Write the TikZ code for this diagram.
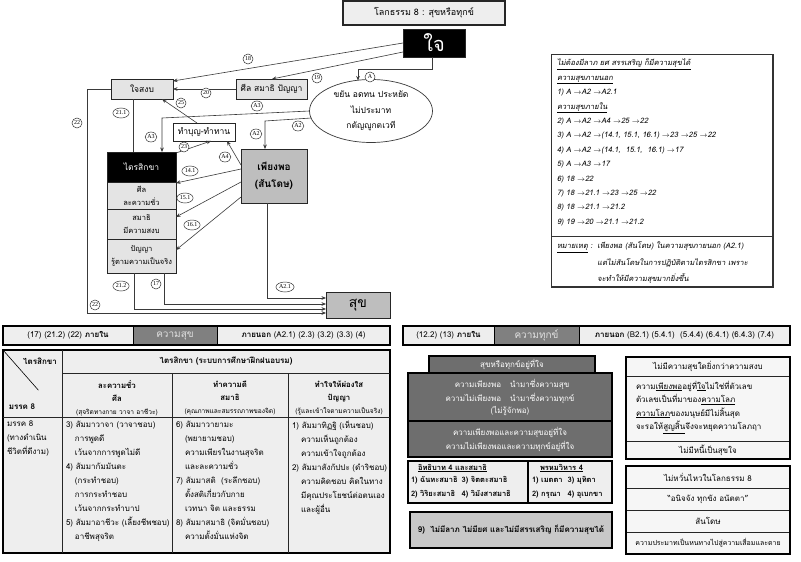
\documentclass[tikz,border=0pt]{standalone}
\usepackage{fontspec}
\setmainfont[Script=Thai]{Loma}
\newfontfamily\thit[Script=Thai,FakeSlant=0.18]{Loma}
\newfontfamily\numf{Liberation Serif}
\usetikzlibrary{shapes.geometric,arrows.meta,calc}
\definecolor{lgray}{HTML}{E4E4E4}
\definecolor{tgray}{HTML}{EEEEEE}
\definecolor{mgray}{HTML}{BEBEBE}
\definecolor{dgray}{HTML}{6E6E6E}
\definecolor{bgray}{HTML}{808080}
\definecolor{ninegray}{HTML}{C8C8C8}
\definecolor{lnc}{HTML}{3A3A3A}
\newcommand\BX[7]{\node[#6, minimum width={#4pt-#2pt}, minimum height={#5pt-#3pt}] (#1) at ({(#2+#4)/2},{(#3+#5)/2}) {#7};}
\newcommand\FS[1]{\fontsize{#1}{#1}\selectfont}
\newcommand\IN{\hspace*{9pt}}
\newcommand\SM{\fontsize{6.6}{13}\selectfont}
\newcommand\LB[4]{\node[lbl] (#1) at (#2,#3) {#4};}
\begin{document}
\begin{tikzpicture}[x=1pt,y=-1pt,
  every node/.style={inner sep=0pt,outer sep=0pt},
  bx/.style={draw=black!85, line width=0.8pt, rectangle, align=center, font=\FS{8.5}},
  conn/.style={draw=lnc, line width=0.6pt},
  arr/.style={conn, -{Stealth[length=4.5pt,width=3.6pt]}},
  lbl/.style={ellipse, draw=black!80, line width=0.5pt, fill=white, inner xsep=0.5pt, inner ysep=0.5pt, minimum width=10pt, minimum height=10pt, font=\numf\FS{6}},
  bar/.style={draw=black, line width=1pt, font=\FS{8}},
  tline/.style={draw=black!85, line width=0.8pt},
  dark/.style={draw=black, line width=1.2pt, fill=dgray, text=white, align=center, font=\FS{8}},
  lite/.style={draw=black, line width=1.2pt, fill=tgray},
  rbox/.style={draw=black!85, line width=0.8pt, fill=tgray!50, font=\FS{8}}
]
\useasboundingbox (0,0) rectangle (801,562);
\fill[white] (0,0) rectangle (801,562);

% ---------- top diagram ----------
\BX{title}{343}{1}{505}{25}{bx, line width=1.6pt, fill=tgray, font=\FS{9}}{โลกธรรม 8 : สุขหรือทุกข์}
\BX{jai}{403}{29}{465}{57}{bx, fill=black, text=white, font=\FS{20}}{ใจ}
\BX{sangob}{111}{79}{173}{99}{bx, fill=lgray}{ใจสงบ}
\BX{sila}{236}{79}{307}{99}{bx, fill=lgray}{ศีล สมาธิ ปัญญา}
\node[ellipse, draw=lnc, line width=0.7pt, minimum width=123pt, minimum height=63pt, align=center, fill=white, font=\fontsize{8.5}{15.5}\selectfont] (ell) at (371,111) {ขยัน อดทน ประหยัด\\ไม่ประมาท\\กตัญญูกตเวที};
\BX{bun}{173}{123}{235}{141}{bx, fill=white}{ทำบุญ-ทำทาน}
\BX{phiang}{241}{149}{307}{203}{bx, fill=mgray, font=\bfseries\fontsize{10}{17}\selectfont}{เพียงพอ\\(สันโดษ)}
\BX{thead}{107}{152}{176}{182}{bx, fill=black, text=white}{ไตรสิกขา}
\BX{tsila}{107}{182}{176}{209}{bx, fill=lgray, font=\fontsize{7.5}{13}\selectfont}{ศีล\\ละความชั่ว}
\BX{tsamadhi}{107}{209}{176}{239}{bx, fill=lgray, font=\fontsize{7.5}{13}\selectfont}{สมาธิ\\มีความสงบ}
\BX{tpanya}{107}{239}{176}{273}{bx, fill=lgray, font=\fontsize{7.5}{13}\selectfont}{ปัญญา\\รู้ตามความเป็นจริง}
\BX{suk}{326}{292}{390}{318}{bx, fill=mgray, font=\FS{14}}{สุข}

% connectors
\draw[arr] (jai.west) -- ($(sangob.north east)+(0,2)$);
\draw[arr] ($(jai.west)+(0,9)$) -- ($(sila.north west)+(36,0)$);
\draw[arr] (sila.west) -- (sangob.east);
\draw[arr] (sangob.west) -- ++(-24,0) |- ($(suk.west)+(0,8)$);
\draw[conn] ($(sangob.south west)+(22,0)$) -- ($(thead.north west)+(26,0)$);
\draw[arr] ($(bun.north west)+(24,0)$) -- ($(sangob.south east)+(-11,0)$);
\draw[arr] ($(thead.north east)+(0,1)$) -- ($(bun.south west)+(38,0)$);
\draw[arr] ($(phiang.north west)+(0,16)$) -- ($(bun.south east)+(-8,0)$);
\draw[arr] (ell.west) -- ($(thead.north west)+(55,-34)$) -- ($(thead.north west)+(55,0)$);
\draw[arr] ($(ell.west)+(2,7)$) -- ($(phiang.north west)+(24,-28)$) -- ($(phiang.north west)+(24,0)$);
\draw[arr] ($(jai.south)+(-2,0)$) |- ($(ell.north)+(-13,-10)$) -- ($(ell.north)+(-13,1)$);
\draw[arr] ($(phiang.north west)+(0,20)$) -- ($(tsila.north east)+(0,1)$);
\draw[arr] ($(phiang.north west)+(0,33)$) -- ($(tsamadhi.east)+(0,-7)$);
\draw[arr] ($(phiang.north west)+(0,48)$) -- ($(tpanya.east)+(0,-6)$);
\draw[arr] ($(phiang.south)+(-7,0)$) |- ($(suk.west)+(0,-7)$);
\draw[arr] ($(tpanya.south west)+(57,0)$) |- ($(suk.west)+(0,-1)$);
\draw[arr] ($(tpanya.south west)+(27,0)$) |- ($(suk.west)+(0,4)$);

% labels
\LB{l18}{248}{59}{18}
\LB{l19}{317}{78}{19}
\LB{l20}{206}{93}{20}
\LB{l22a}{77}{123}{22}
\LB{l211}{121}{113}{21.1}
\LB{l25}{181}{103}{25}
\LB{lA3a}{257}{106}{A3}
\LB{lA3b}{151}{137}{A3}
\LB{l23}{184}{147}{23}
\LB{lA4}{225}{157}{A4}
\LB{lA2a}{256}{134}{A2}
\LB{lA2b}{298}{126}{A2}
\LB{lA}{370}{77}{A}
\LB{l141}{190}{171}{14.1}
\LB{l151}{185}{198}{15.1}
\LB{l161}{192}{225}{16.1}
\LB{l212}{121}{286}{21.2}
\LB{l17}{156}{284}{17}
\LB{lA21}{285}{287}{A2.1}
\LB{l22b}{95}{305}{22}

% ---------- notes box ----------
\BX{notes}{551}{54}{773}{287}{draw=black!80, line width=0.6pt, fill=white}{}
\draw[line width=1.6pt, black!80] (notes.north east) -- (notes.south east) -- (notes.south west);
\draw[line width=0.8pt, black!80] ($(notes.north west)+(0,182)$) -- ($(notes.north east)+(0,182)$);
\node[anchor=north west, align=left, font=\thit\fontsize{7.5}{14.4}\selectfont] (ntext) at (557,59) {%
\underline{ไม่ต้องมีลาภ ยศ สรรเสริญ ก็มีความสุขได้}\\
\underline{ความสุขภายนอก}\\
1) A $\rightarrow$A2 $\rightarrow$A2.1\\
\underline{ความสุขภายใน}\\
2) A $\rightarrow$A2 $\rightarrow$A4 $\rightarrow$25 $\rightarrow$22\\
3) A $\rightarrow$A2 $\rightarrow$(14.1, 15.1, 16.1) $\rightarrow$23 $\rightarrow$25 $\rightarrow$22\\
4) A $\rightarrow$A2 $\rightarrow$(14.1,\ \ 15.1,\ \ 16.1) $\rightarrow$17\\
5) A $\rightarrow$A3 $\rightarrow$17\\
6) 18 $\rightarrow$22\\
7) 18 $\rightarrow$21.1 $\rightarrow$23 $\rightarrow$25 $\rightarrow$22\\
8) 18 $\rightarrow$21.1 $\rightarrow$21.2\\
9) 19 $\rightarrow$20 $\rightarrow$21.1 $\rightarrow$21.2};
\node[anchor=north west, align=left, font=\thit\fontsize{7.5}{16.5}\selectfont] (nnote) at (557,237) {%
\begin{tabular}{@{}l@{\hspace{5pt}}l@{}}
\underline{หมายเหตุ} : & เพียงพอ (สันโดษ) ในความสุขภายนอก (A2.1)\\
 & แต่ไม่สันโดษในการปฏิบัติตามไตรสิกขา เพราะ\\
 & จะทำให้มีความสุขมากยิ่งขึ้น
\end{tabular}};

% ---------- bars ----------
\BX{bl1}{3}{326}{133}{345}{bar, fill=tgray}{(17) (21.2) (22) \textbf{ภายใน}}
\BX{bl2}{133}{326}{217}{345}{bar, fill=bgray, text=black!12, font=\FS{10}}{ความสุข}
\BX{bl3}{217}{326}{390}{345}{bar, fill=tgray}{\textbf{ภายนอก} (A2.1) (2.3) (3.2) (3.3) (4)}
\draw[line width=1.6pt] (bl1.north west) rectangle (bl3.south east);
\BX{br1}{403}{326}{494}{345}{bar, fill=tgray}{(12.2) (13) \textbf{ภายใน}}
\BX{br2}{494}{326}{579}{345}{bar, fill=bgray, text=black!12, font=\FS{10}}{ความทุกข์}
\BX{br3}{579}{326}{790}{345}{bar, fill=tgray}{\textbf{ภายนอก} (B2.1) (5.4.1)\ \ (5.4.4) (6.4.1) (6.4.3) (7.4)}
\draw[line width=1.6pt] (br1.north west) rectangle (br3.south east);

% ---------- table ----------
\BX{tbl}{3}{350}{390}{553}{draw=black, line width=1.2pt, fill=tgray}{}
\draw[tline] (62,350) -- (62,553);
\draw[tline] (62,373) -- (390,373);
\draw[tline] (3,417) -- (390,417);
\draw[tline] (172,373) -- (172,553);
\draw[tline] (288,373) -- (288,553);
\draw[line width=0.6pt] (3,350) -- ($(3,350)!0.6!(62,417)$);
\node[font=\bfseries\FS{8}] (dg1) at (40,361) {ไตรสิกขา};
\node[font=\bfseries\FS{8}] (dg2) at (22,407) {มรรค 8};
\node[font=\bfseries\FS{8}] (h1) at (226,361) {ไตรสิกขา (ระบบการศึกษาฝึกฝนอบรม)};
\node[align=center, font=\fontsize{7.8}{13}\selectfont] (h2) at (117,398) {\textbf{ละความชั่ว}\\\textbf{ศีล}\\{\SM(สุจริตทางกาย วาจา อาชีวะ)}};
\node[align=center, font=\fontsize{7.8}{13}\selectfont] (h3) at (230,398) {\textbf{ทำความดี}\\\textbf{สมาธิ}\\{\SM(คุณภาพและสมรรถภาพของจิต)}};
\node[align=center, font=\fontsize{7.8}{13}\selectfont] (h4) at (339,398) {\textbf{ทำใจให้ผ่องใส}\\\textbf{ปัญญา}\\{\SM(รู้และเข้าใจตามความเป็นจริง)}};
\node[anchor=north west, align=left, font=\fontsize{8}{14}\selectfont] (b1) at (7,421) {มรรค 8\\(ทางดำเนิน\\ชีวิตที่ดีงาม)};
\node[anchor=north west, align=left, font=\fontsize{8}{14}\selectfont] (b2) at (66,421) {3) สัมมาวาจา (วาจาชอบ)\\\IN การพูดดี\\\IN เว้นจากการพูดไม่ดี\\4) สัมมากัมมันตะ\\\IN (กระทำชอบ)\\\IN การกระทำชอบ\\\IN เว้นจากกระทำบาป\\5) สัมมาอาชีวะ (เลี้ยงชีพชอบ)\\\IN อาชีพสุจริต};
\node[anchor=north west, align=left, font=\fontsize{8}{14}\selectfont] (b3) at (176,421) {6) สัมมาวายามะ\\\IN (พยายามชอบ)\\\IN ความเพียรในงานสุจริต\\\IN และละความชั่ว\\7) สัมมาสติ\ \ (ระลึกชอบ)\\\IN ตั้งสติเกี่ยวกับกาย\\\IN เวทนา จิต และธรรม\\8) สัมมาสมาธิ (จิตมั่นชอบ)\\\IN ความตั้งมั่นแห่งจิต};
\node[anchor=north west, align=left, font=\fontsize{8}{14}\selectfont] (b4) at (292,421) {1) สัมมาทิฏฐิ (เห็นชอบ)\\\IN ความเห็นถูกต้อง\\\IN ความเข้าใจถูกต้อง\\2) สัมมาสังกัปปะ (ดำริชอบ)\\\IN ความคิดชอบ คิดในทาง\\\IN มีคุณประโยชน์ต่อตนเอง\\\IN และผู้อื่น};

% ---------- middle right panel ----------
\BX{mp1}{429}{356}{595}{373}{dark}{สุขหรือทุกข์อยู่ที่ใจ}
\BX{mp2}{408}{373}{612}{421}{dark, font=\fontsize{8}{13.5}\selectfont}{\begin{tabular}{@{}r@{\hspace{9pt}}l@{}}ความเพียงพอ & นำมาซึ่งความสุข\\ความไม่เพียงพอ & นำมาซึ่งความทุกข์\end{tabular}\\(ไม่รู้จักพอ)}
\BX{mp3}{408}{421}{612}{457}{dark, font=\fontsize{8}{14}\selectfont}{ความเพียงพอและความสุขอยู่ที่ใจ\\ความไม่เพียงพอและความทุกข์อยู่ที่ใจ}
\BX{mp4}{408}{461}{528}{503}{lite}{}
\BX{mp5}{528}{461}{612}{503}{lite}{}
\node[anchor=north west, align=left, font=\bfseries\fontsize{7.5}{13.5}\selectfont] (mp4t) at (411,464) {\hspace*{7pt}\underline{อิทธิบาท 4 และสมาธิ}\\\begin{tabular}{@{}l@{\hspace{4pt}}l@{}}1) ฉันทะสมาธิ & 3) จิตตะสมาธิ\\2) วิริยะสมาธิ & 4) วิมังสาสมาธิ\end{tabular}};
\node[anchor=north west, align=left, font=\bfseries\fontsize{7.5}{13.5}\selectfont] (mp5t) at (532,464) {\hspace*{8pt}\underline{พรหมวิหาร 4}\\\begin{tabular}{@{}l@{\hspace{5pt}}l@{}}1) เมตตา & 3) มุทิตา\\2) กรุณา & 4) อุเบกขา\end{tabular}};
\BX{mp6}{410}{512}{612}{548}{draw=black, line width=1.2pt, fill=ninegray, font=\bfseries\FS{8}}{9)\ \ ไม่มีลาภ ไม่มียศ และไม่มีสรรเสริญ ก็มีความสุขได้}
\draw[line width=2pt] (mp6.north east) -- (mp6.south east) -- (mp6.south west);

% ---------- right panel ----------
\BX{rp1}{626}{357}{790}{376}{rbox}{ไม่มีความสุขใดยิ่งกว่าความสงบ}
\BX{rp2}{626}{376}{790}{441}{rbox}{}
\BX{rp3}{626}{441}{790}{459}{rbox}{ไม่มีหนี้เป็นสุขใจ}
\node[anchor=north west, align=left, font=\fontsize{8}{13.5}\selectfont] (rp2t) at (636,381) {ความ\underline{เพียงพอ}อยู่ที่\underline{ใจ}ไม่ใช่ที่ตัวเลข\\ตัวเลขเป็นที่มาของ\underline{ความโลภ}\\\underline{ความโลภ}ของมนุษย์มีไม่สิ้นสุด\\จะรอให้\underline{สูญสิ้น}จึงจะหยุดความโลภฤา};
\draw[line width=1.4pt] (rp1.north west) rectangle (rp3.south east);
\BX{rq1}{626}{466}{790}{488}{rbox}{ไม่หวั่นไหวในโลกธรรม 8}
\BX{rq2}{626}{488}{790}{510}{rbox}{“อนิจจัง ทุกขัง อนัตตา”}
\BX{rq3}{626}{510}{790}{532}{rbox}{สันโดษ}
\BX{rq4}{626}{532}{790}{554}{rbox, font=\FS{7}}{ความประมาทเป็นหนทางไปสู่ความเสื่อมและตาย}
\draw[line width=1.4pt] (rq1.north west) rectangle (rq4.south east);
\end{tikzpicture}
\end{document}
